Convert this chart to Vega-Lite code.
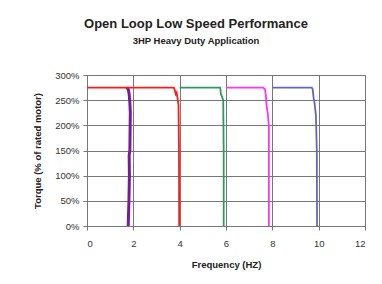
{
  "$schema": "https://vega.github.io/schema/vega-lite/v6.json",
  "width": 278,
  "height": 151,
  "autosize": {"type": "none"},
  "padding": {"left": 87, "top": 75, "right": 17, "bottom": 58},
  "background": "white",
  "title": {
    "text": "Open Loop Low Speed Performance",
    "subtitle": "3HP Heavy Duty Application",
    "anchor": "middle",
    "dx": -30,
    "offset": 25,
    "font": "Liberation Sans",
    "fontSize": 13,
    "fontWeight": "bold",
    "color": "#222222",
    "subtitleFont": "Liberation Sans",
    "subtitleFontSize": 9.5,
    "subtitleFontWeight": "bold",
    "subtitleColor": "#222222",
    "subtitlePadding": 5
  },
  "config": {
    "view": {"stroke": "#808080", "strokeWidth": 1},
    "axis": {
      "labelFont": "Liberation Sans",
      "labelFontSize": 9.5,
      "labelColor": "#333333",
      "titleFont": "Liberation Sans",
      "titleFontSize": 9.5,
      "titleFontWeight": "bold",
      "titleColor": "#222222",
      "gridColor": "#777777",
      "gridOpacity": 1,
      "domainColor": "#777777",
      "tickColor": "#777777",
      "tickSize": 4
    }
  },
  "data": {
    "values": [
      {"s": "a", "i": 1, "f": 1.70, "t": 275},
      {"s": "a", "i": 2, "f": 1.78, "t": 272},
      {"s": "a", "i": 3, "f": 1.82, "t": 262},
      {"s": "a", "i": 4, "f": 1.85, "t": 245},
      {"s": "a", "i": 5, "f": 1.87, "t": 225},
      {"s": "a", "i": 6, "f": 1.86, "t": 190},
      {"s": "a", "i": 7, "f": 1.85, "t": 150},
      {"s": "a", "i": 8, "f": 1.82, "t": 140},
      {"s": "a", "i": 9, "f": 1.83, "t": 100},
      {"s": "a", "i": 10, "f": 1.81, "t": 50},
      {"s": "a", "i": 11, "f": 1.79, "t": 20},
      {"s": "a", "i": 12, "f": 1.78, "t": 0},
      {"s": "b", "i": 1, "f": 0, "t": 275},
      {"s": "b", "i": 2, "f": 3.75, "t": 275},
      {"s": "b", "i": 3, "f": 3.80, "t": 268},
      {"s": "b", "i": 4, "f": 3.83, "t": 262},
      {"s": "b", "i": 5, "f": 3.87, "t": 265},
      {"s": "b", "i": 6, "f": 3.92, "t": 250},
      {"s": "b", "i": 7, "f": 3.95, "t": 240},
      {"s": "b", "i": 8, "f": 3.97, "t": 150},
      {"s": "b", "i": 9, "f": 3.98, "t": 0},
      {"s": "c", "i": 1, "f": 4.0, "t": 275},
      {"s": "c", "i": 2, "f": 5.75, "t": 275},
      {"s": "c", "i": 3, "f": 5.78, "t": 262},
      {"s": "c", "i": 4, "f": 5.82, "t": 258},
      {"s": "c", "i": 5, "f": 5.88, "t": 250},
      {"s": "c", "i": 6, "f": 5.90, "t": 150},
      {"s": "c", "i": 7, "f": 5.90, "t": 0},
      {"s": "d", "i": 1, "f": 6.0, "t": 275},
      {"s": "d", "i": 2, "f": 7.60, "t": 275},
      {"s": "d", "i": 3, "f": 7.68, "t": 272},
      {"s": "d", "i": 4, "f": 7.72, "t": 260},
      {"s": "d", "i": 5, "f": 7.75, "t": 240},
      {"s": "d", "i": 6, "f": 7.80, "t": 225},
      {"s": "d", "i": 7, "f": 7.85, "t": 200},
      {"s": "d", "i": 8, "f": 7.85, "t": 100},
      {"s": "d", "i": 9, "f": 7.85, "t": 0},
      {"s": "e", "i": 1, "f": 8.0, "t": 275},
      {"s": "e", "i": 2, "f": 9.70, "t": 275},
      {"s": "e", "i": 3, "f": 9.74, "t": 272},
      {"s": "e", "i": 4, "f": 9.78, "t": 255},
      {"s": "e", "i": 5, "f": 9.82, "t": 245},
      {"s": "e", "i": 6, "f": 9.88, "t": 220},
      {"s": "e", "i": 7, "f": 9.92, "t": 150},
      {"s": "e", "i": 8, "f": 9.93, "t": 0}
    ]
  },
  "mark": {"type": "line", "clip": true},
  "encoding": {
    "x": {
      "field": "f",
      "type": "quantitative",
      "scale": {"domain": [0, 12], "nice": false},
      "axis": {"values": [0, 2, 4, 6, 8, 10, 12], "title": "Frequency (HZ)", "titlePadding": 12, "labelPadding": 8}
    },
    "y": {
      "field": "t",
      "type": "quantitative",
      "scale": {"domain": [0, 300], "nice": false},
      "axis": {"values": [0, 50, 100, 150, 200, 250, 300], "labelExpr": "datum.value + '%'", "title": "Torque (% of rated motor)", "titlePadding": 12, "labelPadding": 4}
    },
    "order": {"field": "i", "type": "quantitative"},
    "color": {
      "field": "s",
      "type": "nominal",
      "scale": {"domain": ["a", "b", "c", "d", "e"], "range": ["#7a1a9a", "#ff1a1a", "#2e9960", "#ff33ff", "#6464c8"]},
      "legend": null
    },
    "strokeWidth": {
      "field": "s",
      "type": "nominal",
      "scale": {"type": "ordinal", "domain": ["a", "b", "c", "d", "e"], "range": [3, 1.8, 1.8, 1.8, 1.8]},
      "legend": null
    }
  }
}
